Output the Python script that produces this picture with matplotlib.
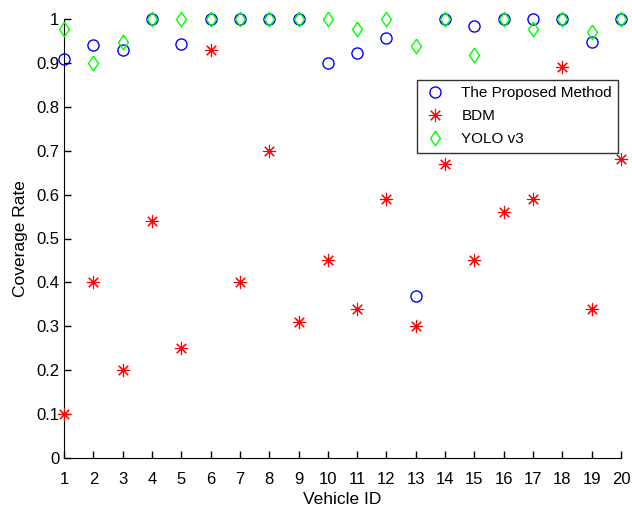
import matplotlib
matplotlib.use("Agg")
import matplotlib.pyplot as plt
from matplotlib.ticker import FuncFormatter

plt.rcParams["font.family"] = ["Liberation Sans", "DejaVu Sans"]

vehicle_ids = list(range(1, 21))
proposed = [0.91, 0.94, 0.93, 1.0, 0.943, 1.0, 1.0, 1.0, 1.0, 0.90,
            0.923, 0.957, 0.37, 1.0, 0.984, 1.0, 1.0, 1.0, 0.948, 1.0]
bdm = [0.10, 0.40, 0.20, 0.54, 0.25, 0.93, 0.40, 0.70, 0.31, 0.45,
       0.34, 0.59, 0.30, 0.67, 0.45, 0.56, 0.59, 0.89, 0.34, 0.68]
yolo = [0.977, 0.90, 0.948, 1.0, 1.0, 1.0, 1.0, 1.0, 1.0, 1.0,
        0.977, 1.0, 0.939, 1.0, 0.918, 1.0, 0.977, 1.0, 0.970, 1.0]

# MATLAB-style diamond (wider than matplotlib's thin 'd')
diamond = [(0, 1), (0.68, 0), (0, -1), (-0.68, 0), (0, 1)]

fig = plt.figure(figsize=(6.32, 5.12), dpi=100)
ax = fig.add_axes([64 / 632, 1 - 458 / 512, 557 / 632, 439 / 512])

ax.plot(vehicle_ids, proposed, linestyle="none", marker="o", markersize=8,
        markerfacecolor="none", markeredgecolor="#0000ff", markeredgewidth=1,
        label="The Proposed Method", clip_on=False, zorder=3)
ax.plot(vehicle_ids, bdm, linestyle="none", marker=(8, 2, 0), markersize=9.5,
        markeredgecolor="#ff0000", markeredgewidth=0.8,
        label="BDM", clip_on=False, zorder=3)
ax.plot(vehicle_ids, yolo, linestyle="none", marker=diamond, markersize=10.5,
        markerfacecolor="none", markeredgecolor="#00ff00", markeredgewidth=1,
        label="YOLO v3", clip_on=False, zorder=3)

ax.set_xlim(1, 20)
ax.set_ylim(0, 1)
ax.set_xticks(vehicle_ids)
ax.set_yticks([i / 10 for i in range(11)])
ax.yaxis.set_major_formatter(FuncFormatter(lambda v, p: f"{v:g}"))
ax.tick_params(direction="in", length=5, labelsize=12, width=1)
ax.tick_params(axis="x", pad=10)
ax.spines["top"].set_visible(False)
ax.spines["right"].set_visible(False)
ax.set_xlabel("Vehicle ID", fontsize=12.5, labelpad=4)
ax.set_ylabel("Coverage Rate", fontsize=12.5, labelpad=6)

leg = ax.legend(loc="upper right", bbox_to_anchor=(0.9946, 0.861), fontsize=11,
                fancybox=False, edgecolor="#333333", framealpha=1,
                borderaxespad=0, borderpad=0.4, labelspacing=0.6,
                handlelength=1.6, handletextpad=0.9)
leg.get_frame().set_linewidth(1)

fig.savefig("out.png", dpi=100)
